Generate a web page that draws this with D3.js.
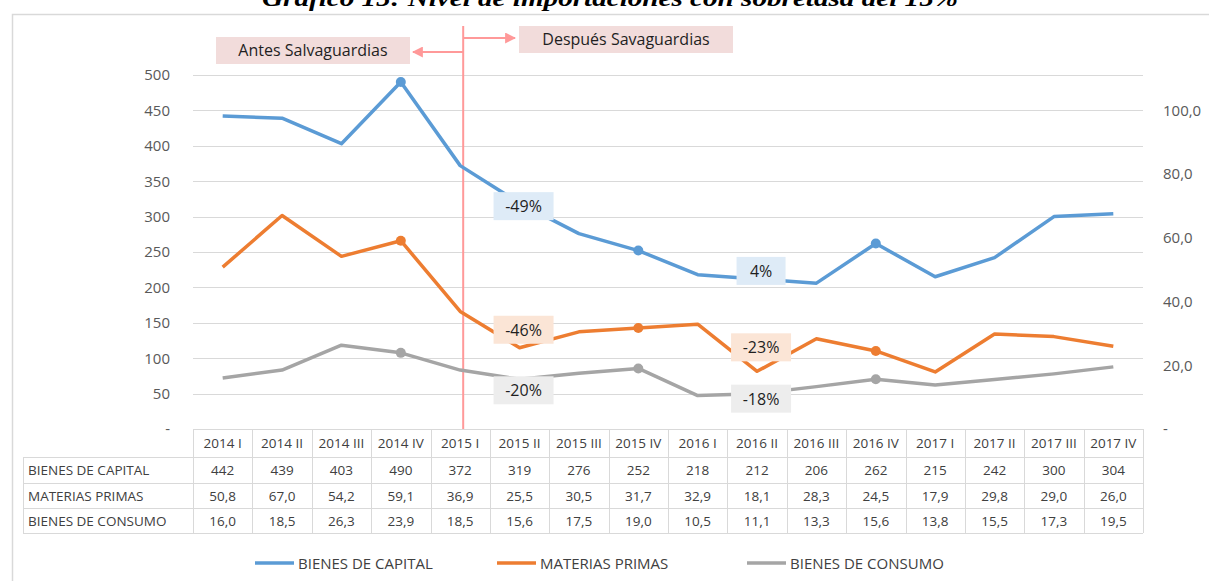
<!DOCTYPE html>
<html>
<head>
<meta charset="utf-8">
<script src="https://cdn.jsdelivr.net/npm/d3@7"></script>
<style>
  body { margin: 0; background: #fff; }
  svg { display: block; font-family: "Open Sans", "Noto Sans", sans-serif; }
</style>
</head>
<body>
<svg id="chart" width="1209" height="581"></svg>
<script>
var categories = ["2014 I", "2014 II", "2014 III", "2014 IV", "2015 I", "2015 II", "2015 III", "2015 IV",
                  "2016 I", "2016 II", "2016 III", "2016 IV", "2017 I", "2017 II", "2017 III", "2017 IV"];
var capital  = [442, 439, 403, 490, 372, 319, 276, 252, 218, 212, 206, 262, 215, 242, 300, 304];
var materias = [50.8, 67.0, 54.2, 59.1, 36.9, 25.5, 30.5, 31.7, 32.9, 18.1, 28.3, 24.5, 17.9, 29.8, 29.0, 26.0];
var consumo  = [16.0, 18.5, 26.3, 23.9, 18.5, 15.6, 17.5, 19.0, 10.5, 11.1, 13.3, 15.6, 13.8, 15.5, 17.3, 19.5];
var seriesNames = ["BIENES DE CAPITAL", "MATERIAS PRIMAS", "BIENES DE CONSUMO"];
var leftTicks = [0, 50, 100, 150, 200, 250, 300, 350, 400, 450, 500];
var rightTicks = [0, 20, 40, 60, 80, 100];
var markerIdx = [3, 7, 11];
// percentage call-outs: series, category index, text
var callouts = [
  {s: 0, i: 5, text: "-49%"}, {s: 1, i: 5, text: "-46%"}, {s: 2, i: 5, text: "-20%"},
  {s: 0, i: 9, text: "4%"},   {s: 1, i: 9, text: "-23%"}, {s: 2, i: 9, text: "-18%"}
];
var title = "Gráfico 15: Nivel de importaciones con sobretasa del 15%";

var colors = ["#5b9bd5", "#ed7d31", "#a5a5a5"];
var boxFill = ["#deebf7", "#fbe5d6", "#ededed"];

var svg = d3.select("#chart");
var plotL = 193, plotR = 1143, plotT = 75, plotB = 429;

// outer frame + title (cut at top edge like the source)
svg.append("rect").attr("x", 12.5).attr("y", 14.5).attr("width", 1300).attr("height", 700)
  .attr("fill", "none").attr("stroke", "#d9d9d9").attr("stroke-width", 1.5);
svg.append("text").attr("x", 610).attr("y", 6).attr("text-anchor", "middle")
  .attr("font-family", "'Liberation Serif', 'DejaVu Serif', serif")
  .attr("font-weight", "bold").attr("font-style", "italic").attr("font-size", 24)
  .attr("textLength", 696).attr("lengthAdjust", "spacingAndGlyphs")
  .text(title);

var x = d3.scaleBand().domain(categories).range([plotL, plotR]);
var xc = function (c) { return x(c) + x.bandwidth() / 2; };
var yL = d3.scaleLinear().domain([0, 500]).range([plotB, plotT]);
var yR = d3.scaleLinear().domain([0, 500 / 4.5]).range([plotB, plotT]);

// gridlines
svg.append("g").selectAll("line").data(leftTicks.filter(function (d) { return d > 0; }))
  .enter().append("line")
  .attr("x1", plotL).attr("x2", plotR)
  .attr("y1", function (d) { return Math.round(yL(d)) + 0.5; })
  .attr("y2", function (d) { return Math.round(yL(d)) + 0.5; })
  .attr("stroke", "#d9d9d9").attr("stroke-width", 1.2);

// left axis
var axL = svg.append("g").attr("transform", "translate(" + plotL + ",0)")
  .call(d3.axisLeft(yL).tickValues(leftTicks).tickSize(0).tickPadding(23)
    .tickFormat(function (d) { return d === 0 ? "-" : d; }));
axL.select(".domain").remove();
axL.selectAll("text").attr("font-size", 15).attr("fill", "#595959")
  .attr("font-family", "'Open Sans', sans-serif");

// right axis
var axR = svg.append("g").attr("transform", "translate(" + plotR + ",0)")
  .call(d3.axisRight(yR).tickValues(rightTicks).tickSize(0).tickPadding(20)
    .tickFormat(function (d) { return d === 0 ? "-" : d3.format(".1f")(d).replace(".", ","); }));
axR.select(".domain").remove();
axR.selectAll("text").attr("font-size", 15).attr("fill", "#595959")
  .attr("font-family", "'Open Sans', sans-serif");

// safeguard annotation
var split = xc("2015 I") + 3;
var pink = "#ff9999";
svg.append("line").attr("x1", split).attr("x2", split).attr("y1", 26).attr("y2", plotB)
  .attr("stroke", pink).attr("stroke-width", 2);
svg.append("defs").append("marker").attr("id", "arr").attr("viewBox", "0 0 10 10")
  .attr("refX", 9).attr("refY", 5).attr("markerWidth", 5.5).attr("markerHeight", 5.5)
  .attr("orient", "auto-start-reverse")
  .append("path").attr("d", "M0,0L10,5L0,10z").attr("fill", pink);
svg.append("line").attr("x1", split).attr("x2", 413).attr("y1", 52).attr("y2", 52)
  .attr("stroke", pink).attr("stroke-width", 2).attr("marker-end", "url(#arr)");
svg.append("line").attr("x1", split).attr("x2", 515).attr("y1", 38).attr("y2", 38)
  .attr("stroke", pink).attr("stroke-width", 2).attr("marker-end", "url(#arr)");
[{t: "Antes Salvaguardias", x0: 216, y0: 37, w: 194},
 {t: "Después Savaguardias", x0: 519, y0: 26, w: 214}].forEach(function (b) {
  svg.append("rect").attr("x", b.x0).attr("y", b.y0).attr("width", b.w).attr("height", 27)
    .attr("fill", "#f2dcdb");
  svg.append("text").attr("x", b.x0 + b.w / 2).attr("y", b.y0 + 19).attr("text-anchor", "middle")
    .attr("font-size", 16).attr("fill", "#1f1f1f").text(b.t);
});

// lines
var data = [capital, materias, consumo];
var scales = [yL, yR, yR];
data.forEach(function (vals, s) {
  var line = d3.line()
    .x(function (d, i) { return xc(categories[i]); })
    .y(function (d) { return scales[s](d); });
  svg.append("path").datum(vals).attr("d", line).attr("fill", "none")
    .attr("stroke", colors[s]).attr("stroke-width", 3.5).attr("stroke-linejoin", "round");
  svg.append("g").selectAll("circle").data(markerIdx).enter().append("circle")
    .attr("cx", function (i) { return xc(categories[i]); })
    .attr("cy", function (i) { return scales[s](vals[i]); })
    .attr("r", 5).attr("fill", colors[s]);
});

// call-outs (vertical offsets from their point)
var calloutDy = [3, -18, 11, -8, -24, 5];
callouts.forEach(function (c, k) {
  var cx = xc(categories[c.i]) + 4;
  var cy = scales[c.s](data[c.s][c.i]) + calloutDy[k];
  var w = c.text.length > 2 ? 60 : 49;
  svg.append("rect").attr("x", cx - w / 2).attr("y", cy - 14).attr("width", w).attr("height", 28)
    .attr("fill", boxFill[c.s]);
  svg.append("text").attr("x", cx).attr("y", cy + 6).attr("text-anchor", "middle")
    .attr("font-size", 16).attr("fill", "#1f1f1f").text(c.text);
});

// data table
var grid = "#d9d9d9";
var rowH = [plotB, 457, 483, 508, 533];
var labelX = 23;
var tbl = svg.append("g").attr("font-size", 13.5).attr("fill", "#404040")
  .attr("font-family", "'Open Sans', sans-serif");
rowH.forEach(function (yy, r) {
  tbl.append("line").attr("x1", r === 0 ? plotL : labelX).attr("x2", plotR)
    .attr("y1", yy + 0.5).attr("y2", yy + 0.5).attr("stroke", grid);
});
tbl.append("line").attr("x1", labelX + 0.5).attr("x2", labelX + 0.5)
  .attr("y1", rowH[1]).attr("y2", rowH[4]).attr("stroke", grid);
categories.concat([null]).forEach(function (c) {
  var xx = c === null ? plotR : x(c);
  tbl.append("line").attr("x1", Math.round(xx) + 0.5).attr("x2", Math.round(xx) + 0.5)
    .attr("y1", rowH[0]).attr("y2", rowH[4]).attr("stroke", grid);
});
categories.forEach(function (c) {
  tbl.append("text").attr("x", xc(c)).attr("y", rowH[0] + 19).attr("text-anchor", "middle").text(c);
});
var fmtDec = function (v) { return d3.format(".1f")(v).replace(".", ","); };
var fmts = [d3.format("d"), fmtDec, fmtDec];
data.forEach(function (vals, s) {
  var yy = (rowH[s + 1] + rowH[s + 2]) / 2 + 5;
  tbl.append("text").attr("x", labelX + 5).attr("y", yy).text(seriesNames[s]);
  vals.forEach(function (v, i) {
    tbl.append("text").attr("x", xc(categories[i])).attr("y", yy).attr("text-anchor", "middle")
      .text(fmts[s](v));
  });
});

// legend
var legX = [255, 497, 747];
var leg = svg.append("g");
seriesNames.forEach(function (n, s) {
  leg.append("line").attr("x1", legX[s]).attr("x2", legX[s] + 39).attr("y1", 563).attr("y2", 563)
    .attr("stroke", colors[s]).attr("stroke-width", 3.5);
  leg.append("text").attr("x", legX[s] + 43).attr("y", 569).attr("font-size", 15)
    .attr("fill", "#404040").text(n);
});
</script>
</body>
</html>
